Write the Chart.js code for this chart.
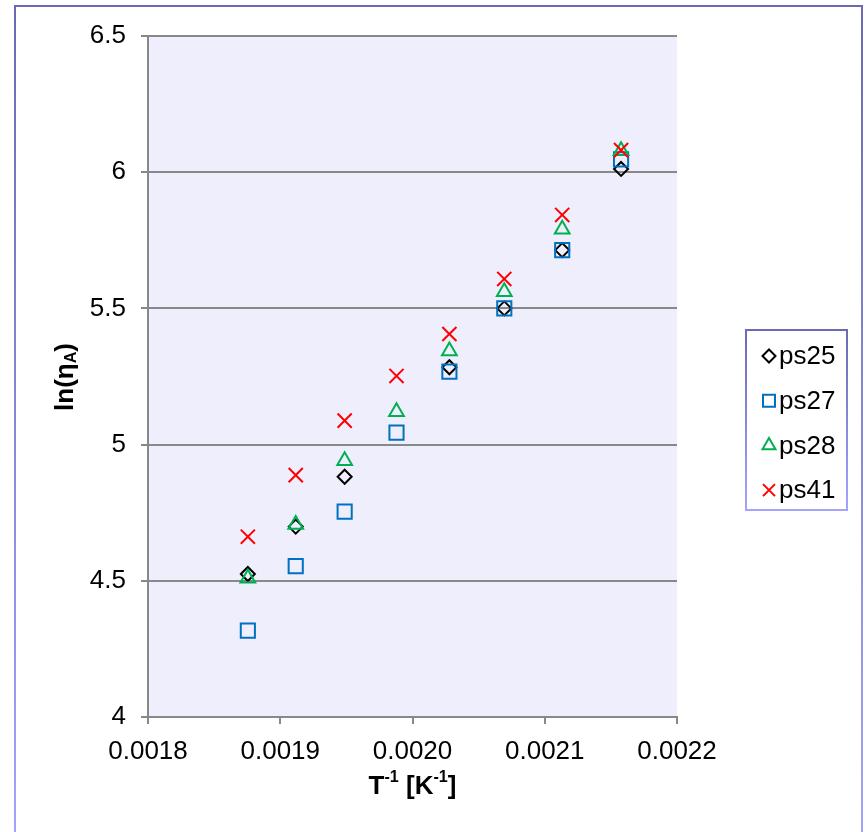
<!DOCTYPE html>
<html>
<head>
<meta charset="utf-8">
<script src="https://cdn.jsdelivr.net/npm/chart.js@4.4.0/dist/chart.umd.min.js"></script>
<style>
  html, body { margin: 0; padding: 0; background: #fff; }
  #marco {
    position: absolute; left: 14px; top: 5px; width: 845px; height: 840px;
    border: 2px solid #8080d0;
    border-image: linear-gradient(#6a6ab4, #a4a4ff) 1;
  }
  #caja { position: absolute; left: 0; top: 0; width: 868px; height: 832px; }
</style>
</head>
<body>
<div id="marco"></div>
<div id="caja"><canvas id="grafica" width="868" height="832"></canvas></div>
<script>
// Valores
const inversaT = [0.0018755, 0.0019117, 0.0019487, 0.0019879, 0.0020279, 0.0020694, 0.0021132, 0.0021577];
const ps25 = [4.525, 4.699, 4.882, null, 5.284, 5.500, 5.714, 6.012];
const ps27 = [4.317, 4.554, 4.754, 5.044, 5.268, 5.500, 5.714, 6.047];
const ps28 = [4.509, 4.707, 4.941, 5.121, 5.344, 5.561, 5.791, 6.079];
const ps41 = [4.662, 4.888, 5.088, 5.252, 5.406, 5.608, 5.843, 6.081];
const nombresSeries = ['ps25', 'ps27', 'ps28', 'ps41'];

const FUENTE = '"Liberation Sans", Arial, sans-serif';

function puntos(valores) {
    return inversaT.map((x, i) => ({ x: x, y: valores[i] })).filter(p => p.y !== null);
}

const estilos = [
    { color: '#000000', forma: 'rectRot', radio: 7 },
    { color: '#0070c0', forma: 'rect', radio: 10 },
    { color: '#00b050', forma: 'triangle', radio: 8.5 },
    { color: '#ff0000', forma: 'crossRot', radio: 10 }
];
const valoresSeries = [ps25, ps27, ps28, ps41];

const datasets = nombresSeries.map((nombre, i) => ({
    label: nombre,
    data: puntos(valoresSeries[i]),
    showLine: false,
    order: 3 - i,
    pointStyle: estilos[i].forma,
    pointRadius: estilos[i].radio,
    pointHoverRadius: estilos[i].radio,
    pointBorderWidth: 2,
    pointBorderColor: estilos[i].color,
    pointBackgroundColor: 'rgba(0,0,0,0)',
    borderColor: estilos[i].color,
    backgroundColor: 'rgba(0,0,0,0)'
}));

// fondo lavanda del área de trazado
const fondoArea = {
    id: 'fondoArea',
    beforeDraw(chart) {
        const a = chart.chartArea, ctx = chart.ctx;
        ctx.save();
        ctx.fillStyle = '#eeeefd';
        ctx.fillRect(a.left, a.top, a.right - a.left, a.bottom - a.top);
        ctx.restore();
    }
};

// texto con sub/superíndices, centrado en x
function trozos(ctx, partes, x, y, tam) {
    let total = 0;
    partes.forEach(p => {
        ctx.font = 'bold ' + (p.s ? tam * 0.62 : tam) + 'px ' + FUENTE;
        total += ctx.measureText(p.t).width;
    });
    let cx = x - total / 2;
    partes.forEach(p => {
        ctx.font = 'bold ' + (p.s ? tam * 0.62 : tam) + 'px ' + FUENTE;
        const dy = p.s === 'sup' ? -tam * 0.38 : (p.s === 'sub' ? tam * 0.22 : 0);
        ctx.fillText(p.t, cx, y + dy);
        cx += ctx.measureText(p.t).width;
    });
}

// títulos de ejes y leyenda con recuadro
const extras = {
    id: 'extras',
    afterDraw(chart) {
        const ctx = chart.ctx;
        const a = chart.chartArea;
        ctx.save();
        ctx.fillStyle = '#000';
        ctx.textBaseline = 'middle';
        ctx.textAlign = 'left';
        trozos(ctx, [{ t: 'T' }, { t: '-1', s: 'sup' }, { t: ' [K' }, { t: '-1', s: 'sup' }, { t: ']' }],
            (a.left + a.right) / 2, 787, 26);
        ctx.save();
        ctx.translate(66, 377);
        ctx.rotate(-Math.PI / 2);
        trozos(ctx, [{ t: 'ln(η' }, { t: 'A', s: 'sub' }, { t: ')' }], 0, 0, 26);
        ctx.restore();

        ctx.lineWidth = 2;
        const g = ctx.createLinearGradient(0, 330, 0, 510);
        g.addColorStop(0, '#6a6ab4');
        g.addColorStop(1, '#a4a4ff');
        ctx.strokeStyle = g;
        ctx.strokeRect(746, 330, 101, 180);
        ctx.font = '26px ' + FUENTE;
        nombresSeries.forEach((nombre, i) => {
            const y = 356 + i * 44.7;
            ctx.save();
            ctx.strokeStyle = estilos[i].color;
            ctx.fillStyle = 'rgba(0,0,0,0)';
            ctx.lineWidth = 2;
            Chart.helpers.drawPoint(ctx, {
                pointStyle: estilos[i].forma,
                radius: estilos[i].forma === 'triangle' ? 7.5 : (estilos[i].forma === 'rectRot' ? 6.5 : 8.5),
                borderWidth: 2
            }, 769, y);
            ctx.restore();
            ctx.fillStyle = '#000';
            ctx.fillText(nombre, 779, y + 1);
        });
        ctx.restore();
    }
};

new Chart(document.getElementById('grafica').getContext('2d'), {
    type: 'scatter',
    data: { datasets: datasets },
    plugins: [fondoArea, extras],
    options: {
        responsive: false,
        animation: false,
        layout: { padding: { left: 0, top: 36, right: 191, bottom: 0 } },
        plugins: { legend: { display: false }, tooltip: { enabled: false } },
        scales: {
            x: {
                type: 'linear',
                min: 0.0018, max: 0.0022,
                afterFit(scale) { scale.height = 115; },
                ticks: {
                    stepSize: 0.0001,
                    padding: 12,
                    color: '#000',
                    font: { family: FUENTE, size: 26 },
                    callback: v => v.toFixed(4)
                },
                grid: { drawOnChartArea: false, drawTicks: true, tickLength: 7, color: '#888888', lineWidth: 2 },
                border: { display: true, color: '#888888', width: 2 }
            },
            y: {
                min: 4, max: 6.5,
                afterFit(scale) { scale.width = 148; },
                ticks: {
                    stepSize: 0.5,
                    padding: 15,
                    color: '#000',
                    font: { family: FUENTE, size: 26 },
                    callback: v => String(Math.round(v * 10) / 10)
                },
                grid: { drawTicks: true, tickLength: 7, color: '#888888', lineWidth: 2 },
                border: { display: true, color: '#888888', width: 2 }
            }
        }
    }
});
</script>
</body>
</html>
